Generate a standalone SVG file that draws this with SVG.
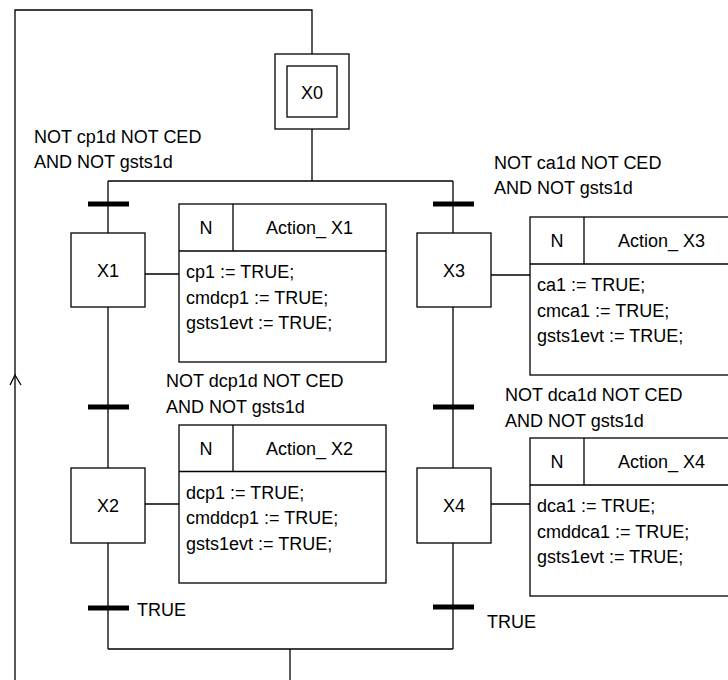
<svg xmlns="http://www.w3.org/2000/svg" width="728" height="680" viewBox="0 0 728 680">
<defs>
<style>
text{font-family:"Liberation Sans",Arial,sans-serif;font-size:18px;fill:#000}
.mid{text-anchor:middle}
.box{fill:#fff;stroke:#000;stroke-width:1.3}
.ln{fill:none;stroke:#000;stroke-width:1.3}
.bar{stroke:#000;stroke-width:5}
</style>
</defs>
<rect width="728" height="680" fill="#fff"/>
<g id="connectors">
<polyline class="ln" points="312,54 312,10 15,10 15,680"/>
<polyline class="ln" points="10,385 15,375 21,385"/>
<line class="ln" x1="312" y1="129" x2="312" y2="181"/>
<line class="ln" x1="108" y1="181" x2="453" y2="181"/>
<line class="ln" x1="108" y1="181" x2="108" y2="233"/>
<line class="ln" x1="108" y1="307" x2="108" y2="468"/>
<line class="ln" x1="108" y1="543" x2="108" y2="649"/>
<line class="ln" x1="453" y1="181" x2="453" y2="233"/>
<line class="ln" x1="453" y1="307" x2="453" y2="468"/>
<line class="ln" x1="453" y1="543" x2="453" y2="649"/>
<line class="ln" x1="108" y1="649" x2="453" y2="649"/>
<line class="ln" x1="290" y1="649" x2="290" y2="680"/>
<line class="ln" x1="145" y1="274" x2="179" y2="274"/>
<line class="ln" x1="145" y1="504" x2="179" y2="504"/>
<line class="ln" x1="491" y1="275" x2="530" y2="275"/>
<line class="ln" x1="491" y1="504" x2="530" y2="504"/>
</g>
<g id="X0">
<rect class="box" x="275" y="54" width="74" height="75"/>
<rect class="box" x="287" y="66" width="50" height="51"/>
<text class="mid" x="312" y="98.5">X0</text>
</g>
<g id="T1">
<line class="bar" x1="88" y1="204" x2="129" y2="204"/>
<text x="34" y="143">NOT cp1d NOT CED</text>
<text x="34" y="168">AND NOT gsts1d</text>
</g>
<g id="T3">
<line class="bar" x1="433" y1="204" x2="474" y2="204"/>
<text x="494" y="169">NOT ca1d NOT CED</text>
<text x="494" y="194">AND NOT gsts1d</text>
</g>
<g id="X1">
<rect class="box" x="71" y="233" width="74" height="74"/>
<text class="mid" x="108" y="277">X1</text>
</g>
<g id="Action_X1">
<rect class="box" x="179" y="204" width="207" height="158"/>
<line class="ln" x1="179" y1="251" x2="386" y2="251"/>
<line class="ln" x1="233" y1="204" x2="233" y2="251"/>
<text class="mid" x="206" y="234">N</text>
<text class="mid" x="309.5" y="234">Action_ X1</text>
<text x="186" y="278">cp1 := TRUE;</text>
<text x="186" y="303.5">cmdcp1 := TRUE;</text>
<text x="186" y="329">gsts1evt := TRUE;</text>
</g>
<g id="X3">
<rect class="box" x="417" y="233" width="74" height="74"/>
<text class="mid" x="454" y="277">X3</text>
</g>
<g id="Action_X3">
<rect class="box" x="530" y="217" width="209" height="158"/>
<line class="ln" x1="530" y1="264" x2="739" y2="264"/>
<line class="ln" x1="584" y1="217" x2="584" y2="264"/>
<text class="mid" x="557" y="247">N</text>
<text class="mid" x="661.5" y="247">Action_ X3</text>
<text x="537" y="291">ca1 := TRUE;</text>
<text x="537" y="316.5">cmca1 := TRUE;</text>
<text x="537" y="342">gsts1evt := TRUE;</text>
</g>
<g id="T2">
<line class="bar" x1="88" y1="407" x2="129" y2="407"/>
<text x="166" y="387">NOT dcp1d NOT CED</text>
<text x="166" y="413">AND NOT gsts1d</text>
</g>
<g id="T4">
<line class="bar" x1="433" y1="407" x2="474" y2="407"/>
<text x="505" y="400.5">NOT dca1d NOT CED</text>
<text x="505" y="426.5">AND NOT gsts1d</text>
</g>
<g id="X2">
<rect class="box" x="71" y="468" width="74" height="75"/>
<text class="mid" x="108" y="512">X2</text>
</g>
<g id="Action_X2">
<rect class="box" x="179" y="425" width="207" height="158"/>
<line class="ln" x1="179" y1="471.5" x2="386" y2="471.5"/>
<line class="ln" x1="233" y1="425" x2="233" y2="471.5"/>
<text class="mid" x="206" y="455">N</text>
<text class="mid" x="309.5" y="455">Action_ X2</text>
<text x="186" y="498.5">dcp1 := TRUE;</text>
<text x="186" y="524">cmddcp1 := TRUE;</text>
<text x="186" y="549.5">gsts1evt := TRUE;</text>
</g>
<g id="X4">
<rect class="box" x="417" y="468" width="74" height="75"/>
<text class="mid" x="454" y="512">X4</text>
</g>
<g id="Action_X4">
<rect class="box" x="530" y="438" width="209" height="158"/>
<line class="ln" x1="530" y1="485" x2="739" y2="485"/>
<line class="ln" x1="584" y1="438" x2="584" y2="485"/>
<text class="mid" x="557" y="468">N</text>
<text class="mid" x="661.5" y="468">Action_ X4</text>
<text x="537" y="512">dca1 := TRUE;</text>
<text x="537" y="537.5">cmddca1 := TRUE;</text>
<text x="537" y="563">gsts1evt := TRUE;</text>
</g>
<g id="T5">
<line class="bar" x1="88" y1="608" x2="129" y2="608"/>
<text x="137" y="616">TRUE</text>
</g>
<g id="T6">
<line class="bar" x1="433" y1="607" x2="474" y2="607"/>
<text x="487" y="628">TRUE</text>
</g>
</svg>
